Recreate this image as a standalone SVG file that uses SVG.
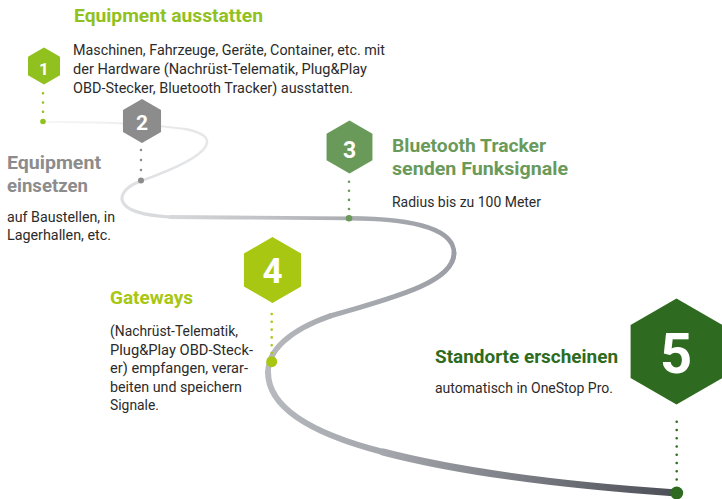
<svg xmlns="http://www.w3.org/2000/svg" width="722" height="499" viewBox="0 0 722 499">
<defs>
<style>
.title{font-family:Roboto,"Liberation Sans",sans-serif;font-weight:700;font-size:19px}
.body{font-family:Roboto,"Liberation Sans",sans-serif;font-size:14px;fill:#2b2b2b}
.num{font-family:Roboto,"Liberation Sans",sans-serif;font-weight:700;fill:#ffffff;text-anchor:middle}
.road{fill:none;stroke-linecap:round}
.dots{fill:none;stroke-linecap:round}
</style>
<linearGradient id="g1" gradientUnits="userSpaceOnUse" x1="43" y1="122" x2="185" y2="129"><stop offset="0" stop-color="#f7f7f7"/><stop offset="1" stop-color="#e6e7e9"/></linearGradient>
<linearGradient id="g2" gradientUnits="userSpaceOnUse" x1="185" y1="129" x2="141" y2="181"><stop offset="0" stop-color="#e6e7e9"/><stop offset="1" stop-color="#dfe0e3"/></linearGradient>
<linearGradient id="g3" gradientUnits="userSpaceOnUse" x1="141" y1="181" x2="170" y2="217"><stop offset="0" stop-color="#dfe0e3"/><stop offset="1" stop-color="#d6d8db"/></linearGradient>
<linearGradient id="g4" gradientUnits="userSpaceOnUse" x1="170" y1="217" x2="349" y2="218"><stop offset="0" stop-color="#d6d8db"/><stop offset="1" stop-color="#aaadb2"/></linearGradient>
<linearGradient id="g5" gradientUnits="userSpaceOnUse" x1="349" y1="218" x2="454" y2="253"><stop offset="0" stop-color="#aaadb2"/><stop offset="1" stop-color="#9b9fa5"/></linearGradient>
<linearGradient id="g6" gradientUnits="userSpaceOnUse" x1="454" y1="253" x2="330" y2="316"><stop offset="0" stop-color="#9b9fa5"/><stop offset="1" stop-color="#a9acb1"/></linearGradient>
<linearGradient id="g7" gradientUnits="userSpaceOnUse" x1="330" y1="316" x2="268" y2="372"><stop offset="0" stop-color="#a9acb1"/><stop offset="1" stop-color="#b7babe"/></linearGradient>
<linearGradient id="g8" gradientUnits="userSpaceOnUse" x1="268" y1="372" x2="383" y2="452"><stop offset="0" stop-color="#b7babe"/><stop offset="1" stop-color="#a4a7ac"/></linearGradient>
<linearGradient id="g9" gradientUnits="userSpaceOnUse" x1="383" y1="452" x2="677" y2="493"><stop offset="0" stop-color="#a4a7ac"/><stop offset="1" stop-color="#4b4e56"/></linearGradient>
</defs>
<rect width="722" height="499" fill="#ffffff"/>

<g id="connectors">
<path class="road" stroke="url(#g1)" stroke-width="2" d="M43,122 C100,121.5 150,124 185,129"/>
<path class="road" stroke="url(#g2)" stroke-width="2.6" d="M185,129 C218,135 222,152 141,181"/>
<path class="road" stroke="url(#g3)" stroke-width="3.2" d="M141,181 C115,190 108,214 170,217"/>
<path class="road" stroke="url(#g4)" stroke-width="3.8" d="M170,217 C230,217.5 300,218 349,218.3"/>
<path class="road" stroke="url(#g5)" stroke-width="4.5" d="M349,218.3 C400,218.5 454,225 454,253"/>
<path class="road" stroke="url(#g6)" stroke-width="5" d="M454,253 C454,280 405,295 330,316"/>
<path class="road" stroke="url(#g7)" stroke-width="5.5" d="M330,316 C290,330 268,350 268,372"/>
<path class="road" stroke="url(#g8)" stroke-width="6" d="M268,372 C268,398 290,428 383,452"/>
<path class="road" stroke="url(#g9)" stroke-width="7" d="M383,452 C460,472 560,485 676.7,493"/>
</g>

<g id="node1">
<polygon fill="#91c11e" points="44,47.5 60,56.75 60,75.25 44,84.5 28,75.25 28,56.75"/>
<text class="num" x="44" y="75" font-size="17">1</text>
<line class="dots" stroke="#91c11e" stroke-width="2.6" stroke-dasharray="0 9.2" x1="43" y1="93.3" x2="43" y2="112"/>
<circle cx="43" cy="121.5" r="2.8" fill="#91c11e"/>
<text class="title" fill="#91c11e" x="74" y="22" textLength="189" lengthAdjust="spacingAndGlyphs">Equipment ausstatten</text>
<text class="body" x="73" y="55" textLength="312" lengthAdjust="spacingAndGlyphs">Maschinen, Fahrzeuge, Geräte, Container, etc. mit</text>
<text class="body" x="73" y="74" textLength="294" lengthAdjust="spacingAndGlyphs">der Hardware (Nachrüst-Telematik, Plug&amp;Play</text>
<text class="body" x="73" y="93" textLength="280" lengthAdjust="spacingAndGlyphs">OBD-Stecker, Bluetooth Tracker) ausstatten.</text>
</g>

<g id="node2">
<polygon fill="#8c8c8c" points="142,99 161.05,110 161.05,132 142,143 122.95,132 122.95,110"/>
<text class="num" x="142" y="130" font-size="21">2</text>
<line class="dots" stroke="#8c8c8c" stroke-width="2.6" stroke-dasharray="0 10" x1="141" y1="150" x2="141" y2="171"/>
<circle cx="141" cy="180.5" r="3" fill="#8c8c8c"/>
<text class="title" fill="#8c8c8c" x="7" y="169" textLength="94" lengthAdjust="spacingAndGlyphs">Equipment</text>
<text class="title" fill="#8c8c8c" x="7" y="192" textLength="81" lengthAdjust="spacingAndGlyphs">einsetzen</text>
<text class="body" x="7" y="222" textLength="108" lengthAdjust="spacingAndGlyphs">auf Baustellen, in</text>
<text class="body" x="7" y="240" textLength="104" lengthAdjust="spacingAndGlyphs">Lagerhallen, etc.</text>
</g>

<g id="node3">
<polygon fill="#6a9a5a" points="349.5,120.5 372.45,133.75 372.45,160.25 349.5,173.5 326.55,160.25 326.55,133.75"/>
<text class="num" x="349.5" y="158" font-size="23">3</text>
<line class="dots" stroke="#6a9a5a" stroke-width="2.6" stroke-dasharray="0 9.1" x1="349" y1="181.7" x2="349" y2="210"/>
<circle cx="349" cy="218.3" r="3.3" fill="#6a9a5a"/>
<text class="title" fill="#6a9a5a" x="392" y="152" textLength="154" lengthAdjust="spacingAndGlyphs">Bluetooth Tracker</text>
<text class="title" fill="#6a9a5a" x="392" y="174.5" textLength="176" lengthAdjust="spacingAndGlyphs">senden Funksignale</text>
<text class="body" x="392" y="206.5" textLength="149" lengthAdjust="spacingAndGlyphs">Radius bis zu 100 Meter</text>
</g>

<g id="node4">
<polygon fill="#a8c712" points="272.5,237 301.08,253.5 301.08,286.5 272.5,303 243.92,286.5 243.92,253.5"/>
<text class="num" x="272.5" y="283" font-size="35">4</text>
<line class="dots" stroke="#a8c712" stroke-width="2.6" stroke-dasharray="0 7.8" x1="271.7" y1="314" x2="271.7" y2="354"/>
<circle cx="271.7" cy="361.7" r="5.5" fill="#a8c712"/>
<text class="title" fill="#a8c712" x="110" y="304" textLength="83" lengthAdjust="spacingAndGlyphs">Gateways</text>
<text class="body" x="110" y="336" textLength="128" lengthAdjust="spacingAndGlyphs">(Nachrüst-Telematik,</text>
<text class="body" x="110" y="354.5" textLength="143" lengthAdjust="spacingAndGlyphs">Plug&amp;Play OBD-Steck-</text>
<text class="body" x="110" y="373" textLength="138" lengthAdjust="spacingAndGlyphs">er) empfangen, verar-</text>
<text class="body" x="110" y="391.5" textLength="132" lengthAdjust="spacingAndGlyphs">beiten und speichern</text>
<text class="body" x="110" y="410" textLength="49" lengthAdjust="spacingAndGlyphs">Signale.</text>
</g>

<g id="node5">
<polygon fill="#2e6b20" points="676.5,298.5 722.4,325 722.4,378 676.5,404.5 630.6,378 630.6,325"/>
<text class="num" x="676" y="373" font-size="56">5</text>
<line class="dots" stroke="#2e6b20" stroke-width="2.6" stroke-dasharray="0 8.25" x1="676.7" y1="421.7" x2="676.7" y2="480"/>
<circle cx="676.7" cy="493" r="6.5" fill="#2e6b20"/>
<text class="title" fill="#2e6b20" x="435" y="363" textLength="183" lengthAdjust="spacingAndGlyphs">Standorte erscheinen</text>
<text class="body" x="435" y="393" textLength="178" lengthAdjust="spacingAndGlyphs">automatisch in OneStop Pro.</text>
</g>
</svg>
